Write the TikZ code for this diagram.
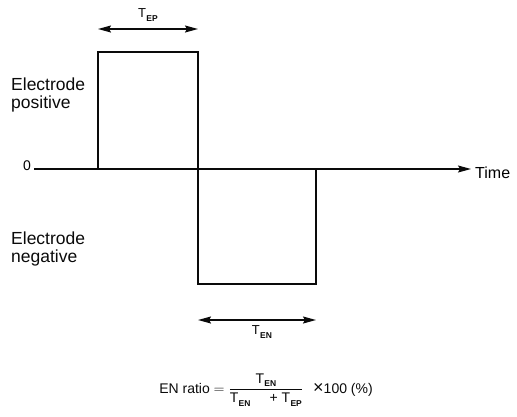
\documentclass[tikz,border=0pt]{standalone}
\usepackage{amsmath}
\usepackage{fontspec}
\setmainfont{Liberation Sans}
\usetikzlibrary{arrows.meta,positioning}
\definecolor{inkCol}{RGB}{10,10,10}
\newcommand{\Tsub}[1]{\mbox{T\kern0.3pt\raisebox{-3.5pt}{\fontsize{8.5}{8.5}\selectfont\bfseries #1}}}
\tikzset{
  wave/.style={draw=inkCol,line width=1.9pt,line join=miter},
  axis/.style={draw=inkCol,line width=1.3pt,-{Stealth[length=13pt,width=7pt,inset=2pt]}},
  span/.style={draw=inkCol,line width=1.5pt,
               {Stealth[length=13pt,width=7pt,inset=2pt]}-{Stealth[length=13pt,width=7pt,inset=2pt]}},
  side/.style={align=left,inner sep=0pt,font=\fontsize{17.5}{18}\selectfont,text=inkCol},
  tlab/.style={inner sep=0pt,font=\fontsize{13}{13}\selectfont,text=inkCol},
  formula/.style={inner sep=0pt,font=\fontsize{14}{14}\selectfont,text=inkCol},
}
\begin{document}
\begin{tikzpicture}[x=1pt,y=-1pt]
    \useasboundingbox (0,0) rectangle (517,416);
    % --- time axis ---
    \coordinate (ax0) at (34,169);
    \coordinate (ax1) at (471,169);
    \draw[axis] (ax0) -- (ax1);
    \node[inner sep=0pt,font=\fontsize{14}{14}\selectfont] (zero) at (27,166) {0};
    \node[anchor=west,inner sep=0pt,font=\fontsize{16}{16}\selectfont] (time) at (475,172.5) {Time};
    % --- pulse: EP up, EN down ---
    \coordinate (p0) at (98,169);
    \coordinate (p1) at (98,52);
    \coordinate (p2) at (198,52);
    \coordinate (p3) at (198,284);
    \coordinate (p4) at (316,284);
    \coordinate (p5) at (316,169);
    \draw[wave] (p0) -- (p1) -- (p2) -- (p3) -- (p4) -- (p5);
    \node[side,anchor=north west] (pos) at (11,78) {Electrode\\positive};
    \node[side,anchor=north west] (neg) at (11,232) {Electrode\\negative};
    % --- duration spans ---
    \coordinate (ep0) at (98,29);
    \coordinate (ep1) at (198,29);
    \draw[span] (ep0) -- (ep1);
    \node[tlab] (tep) at (148,15) {\Tsub{EP}};
    \coordinate (en0) at (198,320);
    \coordinate (en1) at (316,320);
    \draw[span] (en0) -- (en1);
    \node[tlab] (ten) at (262,332) {\Tsub{EN}};
    % --- definition ---
    \node[formula] (ratio) at (266,390)
        {EN ratio $=\dfrac{\Tsub{EN}}{\makebox[72pt]{\Tsub{EN}\hfill+\;\Tsub{EP}}}$\;\, {\fontsize{18}{18}\selectfont ×}100 (\%)};
\end{tikzpicture}
\end{document}
